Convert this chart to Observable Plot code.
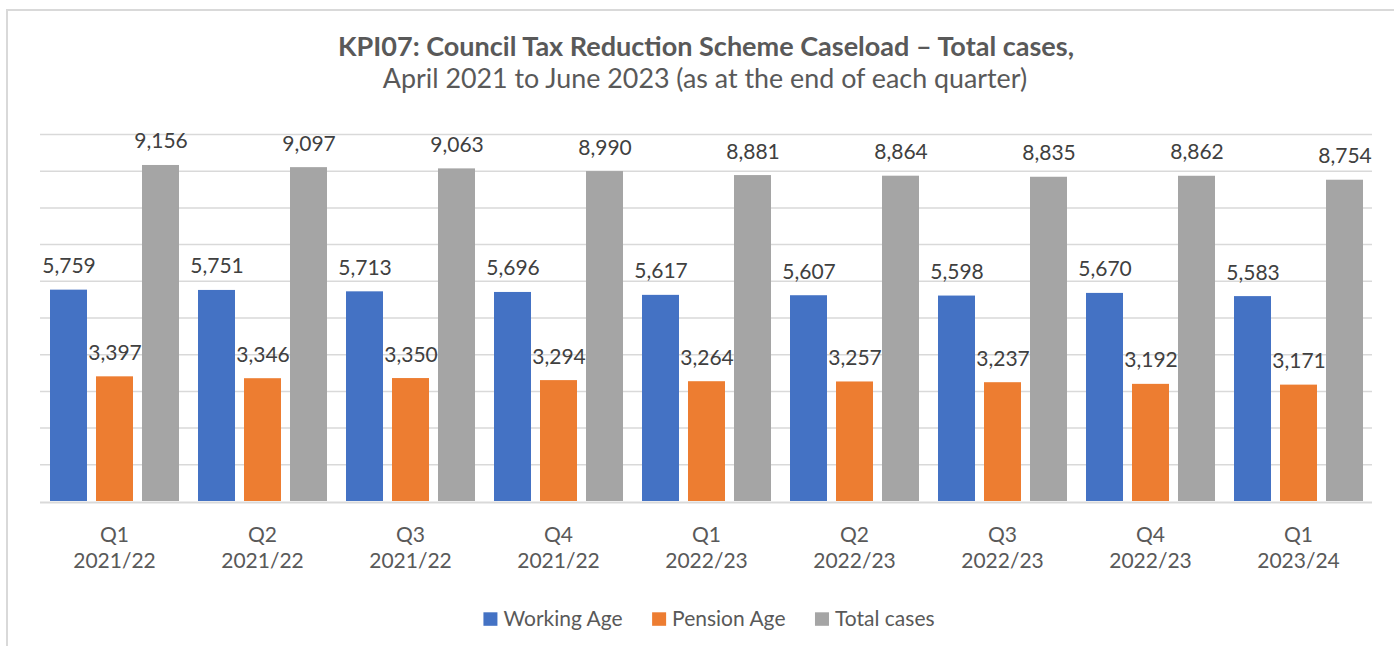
<!DOCTYPE html>
<html>
<head>
<meta charset="utf-8">
<script src="https://cdn.jsdelivr.net/npm/d3@7"></script>
<script src="https://cdn.jsdelivr.net/npm/@observablehq/plot@0.6"></script>
<style>
  html, body { margin: 0; padding: 0; background: #ffffff; }
  #root { position: relative; width: 1394px; height: 646px; overflow: hidden; font-family: Lato, sans-serif; }
  #frame { position: absolute; left: 6px; top: 9px; width: 1500px; height: 900px;
           border-left: 2px solid #d9d9d9; border-top: 2px solid #d9d9d9; }
  #chart { position: absolute; left: 0; top: 110px; }
  #overlay { position: absolute; left: 0; top: 0; }
</style>
</head>
<body>
<div id="root">
  <div id="frame"></div>
  <div id="chart"></div>
  <svg id="overlay" width="1394" height="646"></svg>
</div>
<script>
// ---- data ----
const titleText = "KPI07: Council Tax Reduction Scheme Caseload – Total cases,";
const subtitleText = "April 2021 to June 2023 (as at the end of each quarter)";
const quarters = ["Q1", "Q2", "Q3", "Q4", "Q1", "Q2", "Q3", "Q4", "Q1"];
const years = ["2021/22", "2021/22", "2021/22", "2021/22", "2022/23", "2022/23", "2022/23", "2022/23", "2023/24"];
const seriesNames = ["Working Age", "Pension Age", "Total cases"];
const workingAge = [5759, 5751, 5713, 5696, 5617, 5607, 5598, 5670, 5583];
const pensionAge = [3397, 3346, 3350, 3294, 3264, 3257, 3237, 3192, 3171];
const totalCases = [9156, 9097, 9063, 8990, 8881, 8864, 8835, 8862, 8754];
const seriesColors = ["#4472C4", "#ED7D31", "#A5A5A5"];
const gridValues = [1000, 2000, 3000, 4000, 5000, 6000, 7000, 8000, 9000, 10000];
const yDomain = [0, 10000];

// ---- table ----
const periods = quarters.map((q, i) => `${q}\n${years[i]}`);
const seriesValues = [workingAge, pensionAge, totalCases];
const table = [];
periods.forEach((p, i) => {
  seriesValues.forEach((arr, j) => table.push({period: p, series: seriesNames[j], value: arr[i]}));
});

const fmt = d3.format(",");

const chart = Plot.plot({
  width: 1394,
  height: 470,
  marginTop: 24,
  marginBottom: 79,
  marginLeft: 38,
  marginRight: 20,
  style: {fontFamily: "Lato, sans-serif", fontSize: "21px", color: "#595959", background: "transparent"},
  fx: {domain: periods, padding: 0, label: null},
  x: {domain: seriesNames, padding: 0.2, axis: null},
  y: {domain: yDomain, axis: null},
  color: {domain: seriesNames, range: seriesColors},
  marks: [
    Plot.ruleY(gridValues, {stroke: "#d9d9d9", strokeWidth: 1.5}),
    Plot.ruleY([0], {stroke: "#d9d9d9", strokeWidth: 2, dy: 1}),
    Plot.barY(table, {fx: "period", x: "series", y: "value", fill: "series"}),
    Plot.text(table, {fx: "period", x: "series", y: "value", text: d => fmt(d.value),
      lineAnchor: "bottom", dy: -17, fill: "#404040", fontSize: 21}),
    Plot.axisFx({anchor: "bottom", tickSize: 0, tickPadding: 22, lineHeight: 1.25, fontSize: 21, label: null, fill: "#595959"})
  ]
});
document.getElementById("chart").appendChild(chart);

// ---- title, subtitle and legend ----
const overlay = d3.select("#overlay");
const canvas = document.createElement("canvas");
const ctx = canvas.getContext("2d");
function fitSize(text, weight, target) {
  ctx.font = `${weight} 100px Lato`;
  return 100 * target / ctx.measureText(text).width;
}
overlay.append("text")
  .attr("x", 706).attr("y", 56)
  .attr("text-anchor", "middle")
  .attr("font-family", "Lato, sans-serif").attr("font-weight", "bold")
  .attr("font-size", fitSize(titleText, "bold", 738))
  .attr("fill", "#595959")
  .text(titleText);
overlay.append("text")
  .attr("x", 705).attr("y", 88)
  .attr("text-anchor", "middle")
  .attr("font-family", "Lato, sans-serif")
  .attr("font-size", fitSize(subtitleText, "normal", 646))
  .attr("fill", "#595959")
  .text(subtitleText);

const legend = overlay.append("g");
const items = legend.selectAll("g").data(seriesNames).join("g");
items.append("rect").attr("width", 14).attr("height", 13.5).attr("y", 612.3)
  .attr("fill", (d, i) => seriesColors[i]);
items.append("text").attr("x", 20).attr("y", 625.7)
  .attr("font-family", "Lato, sans-serif").attr("font-size", 21).attr("fill", "#595959")
  .text(d => d);
let widths = [];
items.each(function () { widths.push(this.querySelector("text").getComputedTextLength()); });
const gap = 29.5;
const total = d3.sum(widths, w => w + 20) + gap * (widths.length - 1);
let x0 = 709 - total / 2;
items.attr("transform", (d, i) => {
  const t = `translate(${x0},0)`;
  x0 += 20 + widths[i] + gap;
  return t;
});
</script>
</body>
</html>
